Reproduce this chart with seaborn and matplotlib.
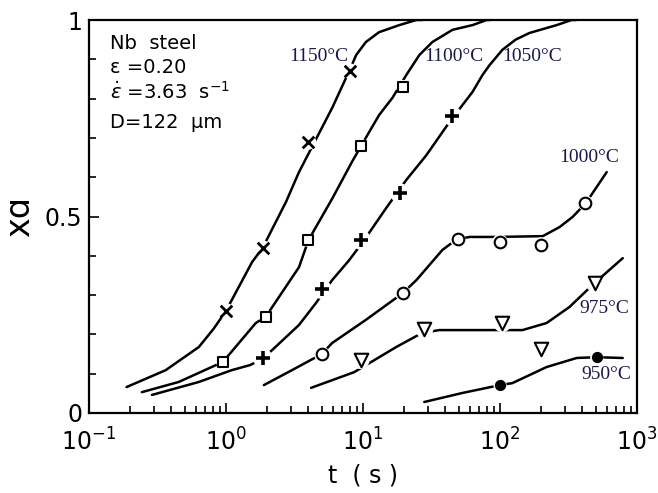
import numpy as np
import pandas as pd
import seaborn as sns
import matplotlib.pyplot as plt
from matplotlib.ticker import LogLocator, MultipleLocator, NullFormatter

# curves (t in s, fraction recrystallised)
t_1150 = [0.188, 0.363, 0.634, 0.815, 1.0, 1.55, 1.85, 2.74, 3.41, 5.95, 8.0, 8.92, 10.5, 13.1, 18.4, 24.5, 27]
x_1150 = [0.066, 0.109, 0.168, 0.215, 0.26, 0.384, 0.42, 0.537, 0.613, 0.776, 0.873, 0.911, 0.944, 0.969, 0.987,
          1.0, 1.0]

t_1100 = [0.243, 0.452, 0.95, 1.65, 1.95, 3.41, 4.0, 5.95, 8.34, 9.7, 13.1, 16.4, 20.7, 25.8, 32.1, 45, 63, 80, 85]
x_1100 = [0.053, 0.079, 0.13, 0.229, 0.245, 0.371, 0.44, 0.545, 0.64, 0.68, 0.758, 0.802, 0.86, 0.911, 0.944,
          0.975, 0.987, 1.0, 1.0]

t_1050 = [0.288, 0.634, 1.10, 1.50, 1.83, 2.17, 3.41, 4.54, 5.95, 7.93, 9.87, 14.8, 20.7, 29.0, 42.7, 63, 74.5,
          83.8, 104, 130, 164, 259, 333, 360]
x_1050 = [0.046, 0.079, 0.109, 0.122, 0.137, 0.160, 0.224, 0.280, 0.338, 0.389, 0.433, 0.522, 0.593, 0.656, 0.740,
          0.817, 0.860, 0.885, 0.924, 0.950, 0.967, 0.987, 1.0, 1.0]

t_1000 = [1.89, 3.03, 5.0, 5.95, 10.5, 19.5, 24.5, 38, 45, 52, 60, 94.3, 205, 272, 339, 423, 601]
x_1000 = [0.071, 0.109, 0.150, 0.178, 0.237, 0.305, 0.338, 0.415, 0.434, 0.444, 0.448, 0.448, 0.450, 0.473, 0.499,
          0.534, 0.613]

t_975 = [4.18, 8.63, 11.5, 17.5, 27.1, 36.1, 94.3, 146, 219, 322, 491, 787]
x_975 = [0.064, 0.104, 0.130, 0.168, 0.204, 0.211, 0.211, 0.211, 0.229, 0.270, 0.331, 0.394]

t_950 = [28, 53.2, 100, 123, 219, 363, 508, 787]
x_950 = [0.028, 0.051, 0.071, 0.076, 0.117, 0.140, 0.142, 0.140]

# measured points
pt_1150 = [1.0, 1.85, 4.0, 8.0]
px_1150 = [0.26, 0.42, 0.69, 0.87]
pt_1100 = [0.95, 1.95, 4.0, 9.7, 19.5]
px_1100 = [0.13, 0.245, 0.44, 0.68, 0.83]
pt_1050 = [1.85, 5.0, 9.7, 18.5, 45]
px_1050 = [0.14, 0.315, 0.44, 0.56, 0.755]
pt_1000 = [5.0, 19.5, 49, 100, 200, 420]
px_1000 = [0.15, 0.305, 0.443, 0.435, 0.427, 0.534]
pt_975 = [9.6, 28, 104, 200, 490]
px_975 = [0.135, 0.214, 0.229, 0.163, 0.331]
pt_950 = [100, 508]
px_950 = [0.071, 0.142]

curve_labels = ["1150°C", "1100°C", "1050°C", "1000°C", "975°C", "950°C"]

sns.set_style("ticks", {"xtick.direction": "in", "ytick.direction": "in"})
plt.rcParams["font.family"] = ["DejaVu Sans"]
plt.rcParams["text.color"] = "black"
plt.rcParams["axes.labelcolor"] = "black"

fig = plt.figure(figsize=(6.58, 4.93), dpi=100)
ax = fig.add_axes([89 / 658, 1 - 413 / 493, 548 / 658, 393 / 493])

curves = [(t_1150, x_1150), (t_1100, x_1100), (t_1050, x_1050),
          (t_1000, x_1000), (t_975, x_975), (t_950, x_950)]
for t, xa in curves:
    sns.lineplot(x=t, y=xa, sort=False, estimator=None, color="black", lw=1.8, ax=ax, zorder=2)

points = [
    (pt_1150, px_1150, "x", 70, "black", "black", 2.0),
    (pt_1100, px_1100, "s", 55, "white", "black", 1.5),
    (pt_1050, px_1050, "+", 110, "black", "black", 2.6),
    (pt_1000, px_1000, "o", 70, "white", "black", 1.5),
    (pt_975, px_975, "v", 95, "white", "black", 1.5),
    (pt_950, px_950, "o", 50, "black", "black", 1.0),
]
for t, xa, m, s, fc, ec, lw in points:
    # white halo so the curve breaks around each point, as in the original
    sns.scatterplot(x=t, y=xa, marker="o", s=s * 1.8, color="white", edgecolor="none", ax=ax, zorder=3)
    if m in ("x", "+"):
        sns.scatterplot(x=t, y=xa, marker=m, s=s, color=ec, linewidth=lw, ax=ax, zorder=4)
    else:
        sns.scatterplot(x=t, y=xa, marker=m, s=s, facecolor=fc, edgecolor=ec, linewidth=lw, ax=ax, zorder=4)

ax.set_xscale("log")
ax.set_xlim(0.1, 1000)
ax.set_ylim(0, 1)

ax.set_xticks([0.1, 1, 10, 100, 1000])
ax.set_xticklabels([r"$10^{-1}$", r"$10^{0}$", r"$10^{1}$", r"$10^{2}$", r"$10^{3}$"])
ax.xaxis.set_minor_locator(LogLocator(base=10, subs=np.arange(2, 10)))
ax.xaxis.set_minor_formatter(NullFormatter())
ax.set_yticks([0, 0.5, 1])
ax.set_yticklabels(["0", "0.5", "1"])
ax.yaxis.set_minor_locator(MultipleLocator(0.1))

ax.tick_params(which="both", direction="in", top=False, right=False, colors="black", width=1.2)
ax.tick_params(which="major", length=7, labelsize=17)
ax.tick_params(which="minor", length=5)
ax.tick_params(axis="x", which="major", pad=11)
ax.tick_params(axis="y", which="major", pad=5)
for sp in ax.spines.values():
    sp.set_visible(True)
    sp.set_linewidth(1.6)
    sp.set_color("black")

ax.set_xlabel("t  ( s )", fontsize=17, labelpad=6)
ax.set_ylabel("xɑ", fontsize=24, labelpad=6)

# temperature labels
lab_t = [2.88, 28.1, 104, 272, 381, 394]
lab_y = [0.906, 0.906, 0.906, 0.651, 0.267, 0.097]
for name, tx, ty in zip(curve_labels, lab_t, lab_y):
    ax.text(tx, ty, name, fontsize=14, family="Liberation Serif", color="#1a1a48",
            ha="left", va="center", zorder=5)

# condition block
info = ["Nb  steel", "ε =0.20", r"$\dot{\epsilon}$ =3.63  s$^{-1}$", "D=122  μm"]
info_y = [0.941, 0.878, 0.817, 0.738]
for s_, yy in zip(info, info_y):
    ax.text(0.038, yy, s_, transform=ax.transAxes, fontsize=14, ha="left", va="center", color="black")

fig.savefig("out.png", dpi=100)
